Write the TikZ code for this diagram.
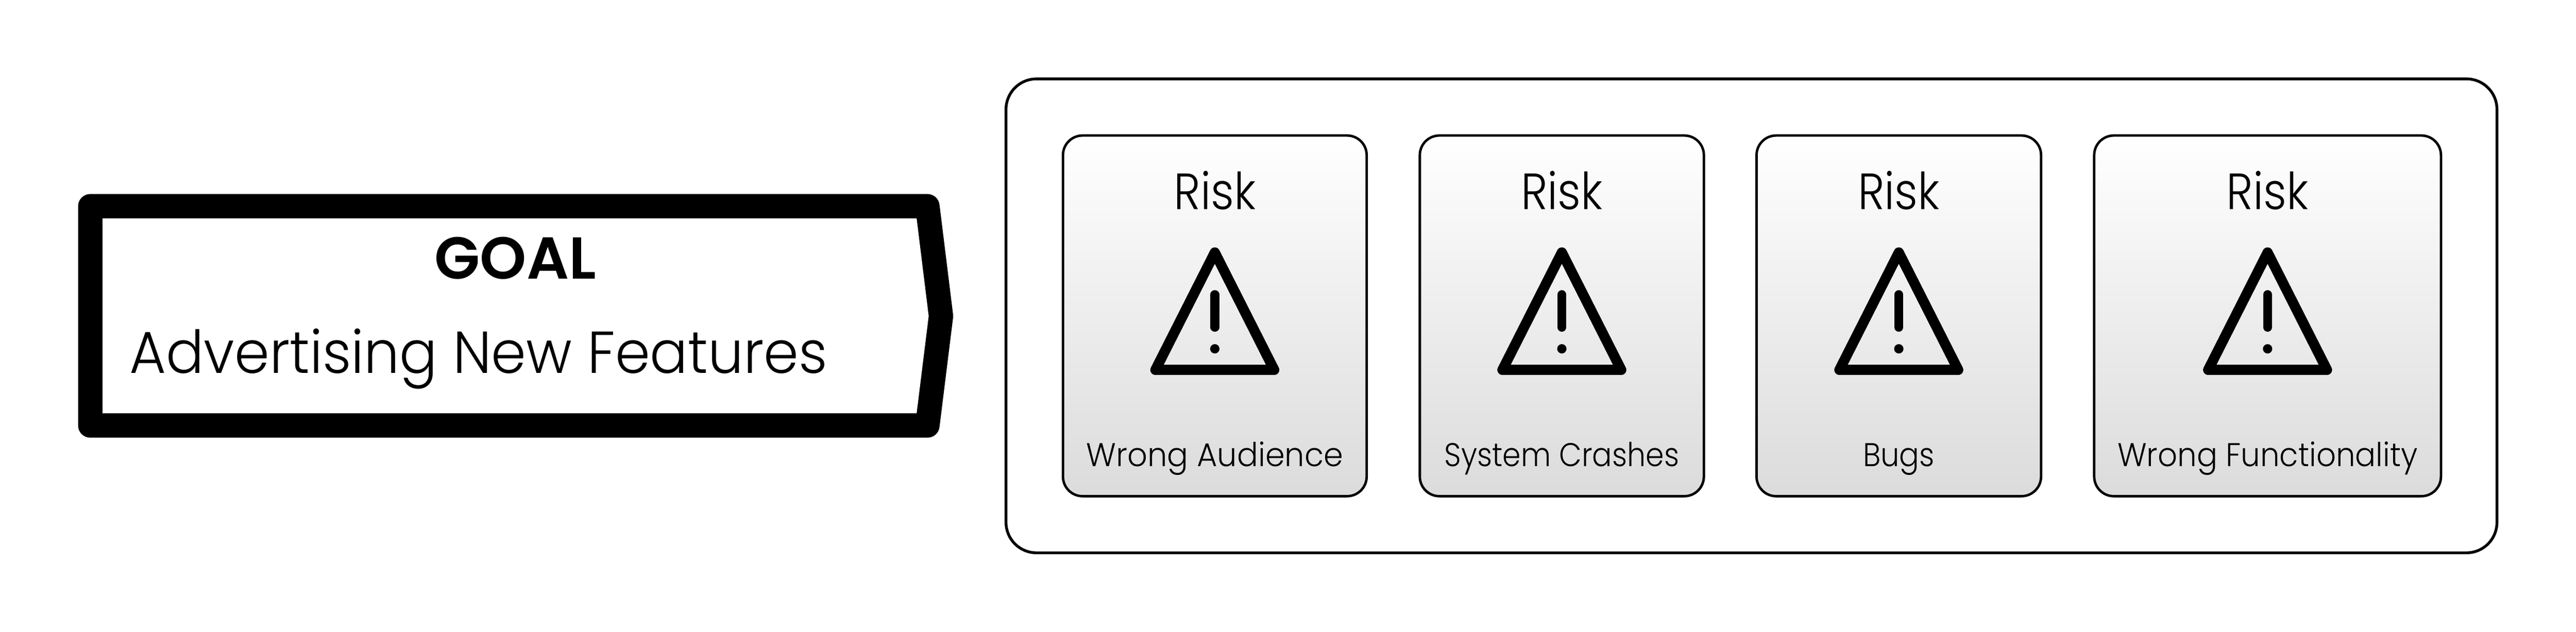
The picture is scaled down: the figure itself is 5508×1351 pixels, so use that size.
\documentclass[tikz,border=0pt]{standalone}
\usepackage{fontspec}
\setmainfont{Poppins}[UprightFont=* Light,BoldFont=* SemiBold]
\tikzset{
  cardbox/.style={draw,line width=1.5pt,rounded corners=0.42cm,top color=white,bottom color=black!14,minimum height=7.71cm,inner sep=0pt},
  risktext/.style={anchor=base,inner sep=0pt,font=\fontsize{31}{31}\selectfont},
  labeltext/.style={anchor=base,inner sep=0pt,font=\fontsize{20}{20}\selectfont},
  warnline/.style={line width=6.2pt,line join=round,line cap=round}
}
\begin{document}
\begin{tikzpicture}[x=0.01cm,y=-0.01cm]
      \useasboundingbox (0,0) rectangle (5508,1351);
      % goal arrow
      \coordinate (gtl) at (193,441);
      \coordinate (gtr) at (1983,441);
      \coordinate (gtip) at (2012,676);
      \coordinate (gbr) at (1983,910);
      \coordinate (gbl) at (193,910);
      \draw[line width=14.8pt,line join=round] (gtl) -- (gtr) -- (gtip) -- (gbr) -- (gbl) -- cycle;
      \node[anchor=base,inner sep=0pt,font=\fontsize{36}{36}\selectfont\bfseries] (goaltitle) at (1102,596) {GOAL};
      \node[anchor=base west,inner sep=0pt,font=\fontsize{36}{36}\selectfont] (goaltext) at (276,798) {\scalebox{0.948}[1]{Advertising New Features}};
      % risk group
      \node[draw,line width=1.7pt,rounded corners=0.65cm,minimum width=31.86cm,minimum height=10.13cm] (riskgroup) at (3745,675.5) {};
      \foreach \n/\cx/\w/\sc/\txt in {a/2597.5/6.49/0.95/Wrong Audience,b/3339.5/6.07/0.893/System Crashes,c/4060/6.08/0.9/Bugs,d/4848.5/7.41/0.93/Wrong Functionality}{
        \node[cardbox,minimum width=\w cm] (card\n) at (\cx,675.5) {};
        \node[risktext] (risk\n) at (\cx,448) {\scalebox{0.89}[1]{Risk}};
        \node[labeltext] (label\n) at (\cx,997) {\scalebox{\sc}[1]{\txt}};
        \draw[warnline] (\cx,540) -- (\cx+127,791) -- (\cx-127,791) -- cycle;
        \draw[line width=5.4pt,line cap=round] (\cx,630) -- (\cx,700);
        \fill (\cx,746) circle (10);
      }
    \end{tikzpicture}
\end{document}
